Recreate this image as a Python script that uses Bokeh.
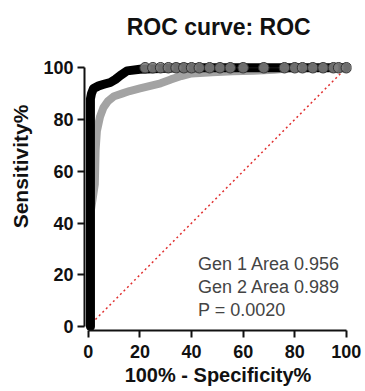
from bokeh.plotting import figure
from bokeh.models import Range1d, FixedTicker
from bokeh.core.properties import value
from bokeh.embed import file_html
from bokeh.resources import INLINE

# Gen 1 (gray) ROC points: 100% - specificity, sensitivity
gen1_x = [1.0, 1.0, 2.5, 2.8, 3.3, 4.5, 5.8, 7.5, 10, 13, 16, 20, 24, 28, 32, 36, 40, 48, 56, 64, 72, 76, 80]
gen1_y = [0, 45, 55, 68, 75.5, 81, 84.5, 87, 89, 90, 91, 92, 93, 94, 95.5, 96.8, 97.8, 98.3, 98.6, 98.8, 99.2, 99.6, 100]

# Gen 2 (black) ROC points
gen2_x = [0.8, 0.8, 1.2, 2.0, 4.0, 6.0, 8.5, 10.5, 12.4, 15, 20, 28, 35, 100]
gen2_y = [0, 88, 90, 92, 93, 93.6, 94.3, 95.5, 97, 98.8, 99.4, 99.7, 100, 100]

# circle points along the top
top_x = [22, 25, 28, 31, 34, 37, 40, 43, 47, 51, 55, 60, 68, 76, 80, 83, 87, 91, 95, 97, 100]
top_y = [100] * len(top_x)

diag = [0, 100]
ticks = [0, 20, 40, 60, 80, 100]
notes = ["Gen 1 Area 0.956", "Gen 2 Area 0.989", "P = 0.0020"]
note_y = [24.0, 15.3, 6.6]
title_text = "ROC curve: ROC"
x_label = "100% - Specificity%"
y_label = "Sensitivity%"

FONT = "Liberation Sans"

# frame extends above the axes so the title can sit inside it
p = figure(width=365, height=391, output_backend="svg", toolbar_location=None,
           x_range=Range1d(-1.5, 102), y_range=Range1d(-1.5, 125.2),
           min_border_left=84, min_border_right=14, min_border_top=2, min_border_bottom=61)

p.outline_line_color = None
p.grid.visible = False
p.background_fill_color = "white"
p.border_fill_color = "white"

for ax in (p.xaxis, p.yaxis):
    ax.ticker = FixedTicker(ticks=ticks)
    ax.bounds = (0, 100)
    ax.minor_tick_line_color = None
    ax.major_tick_in = 0
    ax.major_tick_out = 7
    ax.axis_line_width = 2
    ax.major_tick_line_width = 2
    ax.axis_line_color = "#111111"
    ax.major_tick_line_color = "#111111"
    ax.major_label_text_font = FONT
    ax.major_label_text_font_size = "18px"
    ax.major_label_text_font_style = "bold"
    ax.major_label_text_color = "#111111"
    ax.axis_label_text_font = FONT
    ax.axis_label_text_font_style = "bold"
    ax.axis_label_text_color = "#111111"

p.xaxis.axis_label = x_label
p.yaxis.axis_label = y_label
p.xaxis.axis_label_text_font_size = "20px"
p.yaxis.axis_label_text_font_size = "21px"
p.xaxis.major_label_standoff = 7
p.yaxis.major_label_standoff = 4
p.xaxis.axis_label_standoff = 3
p.yaxis.axis_label_standoff = 8

# title
p.text(x=[50.5], y=[115.9], text=[title_text], text_font=value(FONT),
       text_font_size="23px", text_font_style="bold", text_color="#111111",
       text_align="center", text_baseline="middle")

# diagonal reference line
p.line(diag, diag, line_color="#e03030", line_dash="2 3", line_width=1.5)

# Gen 1 gray
p.line(gen1_x, gen1_y, line_color="#a3a3a3", line_width=8, line_join="round", line_cap="round")
# Gen 2 black
p.line(gen2_x, gen2_y, line_color="#000000", line_width=9, line_join="round", line_cap="round")
p.line(top_x, top_y, line_color="#111111", line_width=1.5)
p.scatter(top_x, top_y, size=10.5, fill_color="#808080", fill_alpha=0.85,
          line_color="#333333", line_width=1)

p.text(x=[42.5] * 3, y=note_y, text=notes, text_font=value(FONT),
       text_font_size="18px", text_color="#444444", text_baseline="middle", text_align="left")

open("out.html", "w").write(file_html(p, INLINE))
